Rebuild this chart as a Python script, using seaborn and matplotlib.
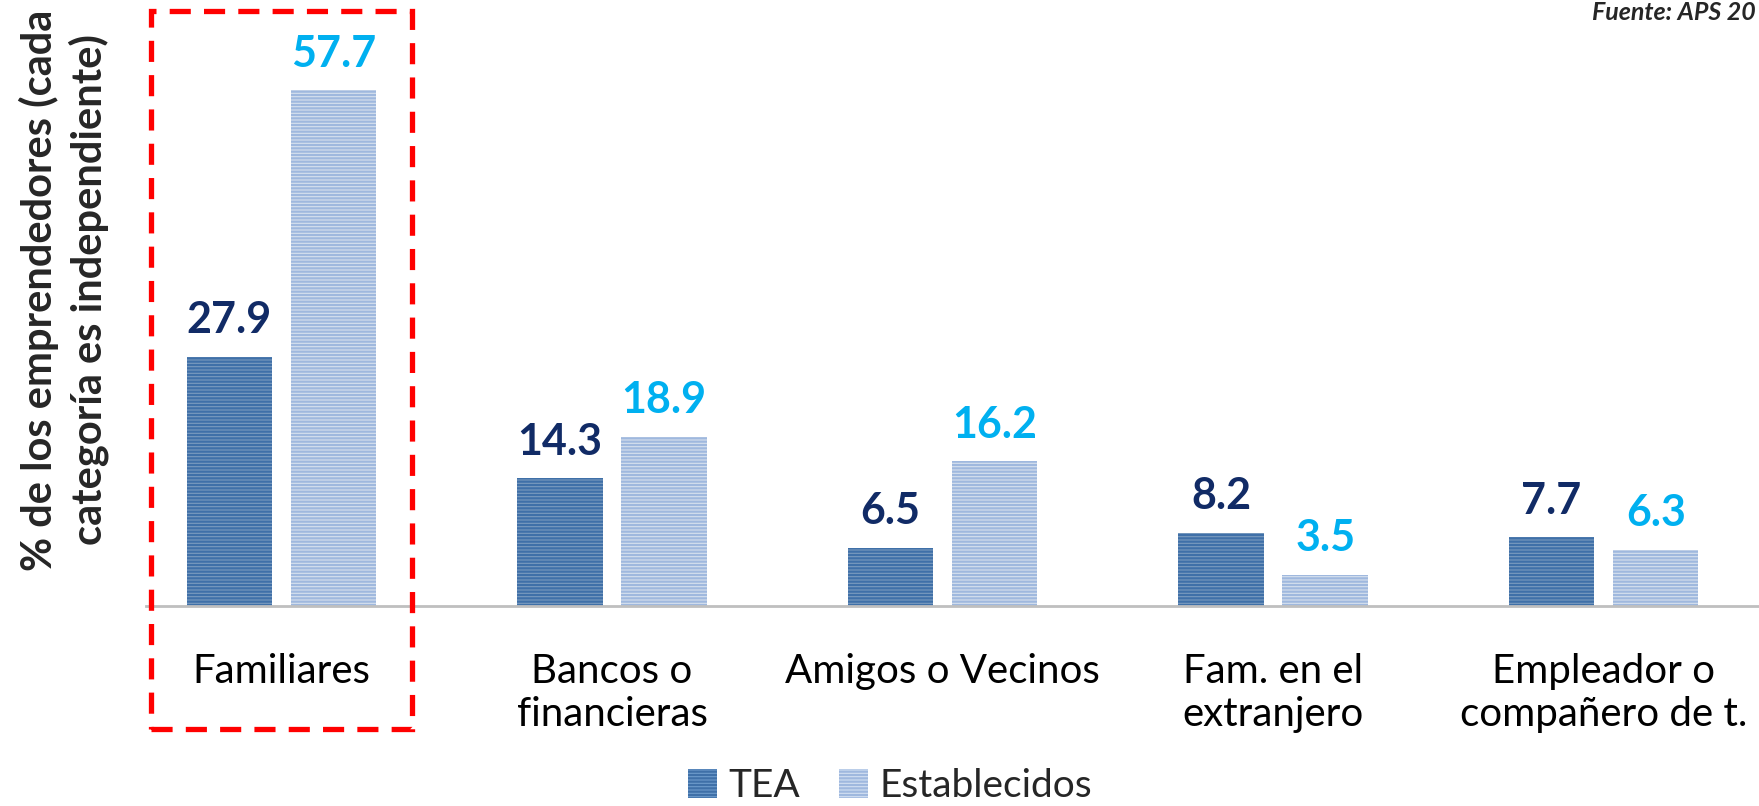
import pandas as pd
import matplotlib.pyplot as plt
import seaborn as sns
from matplotlib.patches import Rectangle

categories = ["Familiares", "Bancos o\nfinancieras", "Amigos o Vecinos",
              "Fam. en el\nextranjero", "Empleador o\ncompañero de t."]
tea = [27.9, 14.3, 6.5, 8.2, 7.7]
establecidos = [57.7, 18.9, 16.2, 3.5, 6.3]
series = ["TEA", "Establecidos"]

df = pd.DataFrame({
    "categoria": categories * 2,
    "grupo": [series[0]] * len(tea) + [series[1]] * len(establecidos),
    "valor": tea + establecidos,
})

sns.set_theme(style="white")
plt.rcParams['font.family'] = ['Lato', 'DejaVu Sans']
plt.rcParams['hatch.linewidth'] = 1.6

fig = plt.figure(figsize=(17.59, 8.06), dpi=100)
ax = fig.add_axes([146 / 1759, 200 / 806, 1 - 146 / 1759, 606 / 806])

face = {"TEA": "#6E9BCB", "Establecidos": "#D3E0F2"}
line = {"TEA": "#3F70A8", "Establecidos": "#9FB8DE"}
sns.barplot(data=df, x="categoria", y="valor", hue="grupo", order=categories,
            hue_order=series, palette=face, width=0.63, gap=0.18, ax=ax,
            legend=False)

label_colors = ["#112B66", "#00B0F0"]
for cont, name, lc in zip(ax.containers, series, label_colors):
    for p in cont:
        p.set_hatch("-----")
        p.set_edgecolor(line[name])
        p.set_linewidth(0)
    ax.bar_label(cont, fmt="%.1f", padding=12, fontsize=31, fontweight="bold",
                 color=lc)

ax.set_xlim(-0.41, 4.47)
ax.set_ylim(0, 67.8)
ax.set_xlabel("")
ax.set_ylabel("")
ax.set_yticks([])
for s in ["top", "right", "left"]:
    ax.spines[s].set_visible(False)
ax.spines["bottom"].set_color("#BFBFBF")
ax.spines["bottom"].set_linewidth(2)
ax.tick_params(axis="x", length=0, pad=34, labelsize=29, colors="black")

fig.text(64 / 1759, 1 - 290 / 806,
         "% de los emprendedores (cada\ncategoría es independiente)",
         rotation=90, ha="center", va="center", multialignment="center",
         fontsize=30, fontweight="bold", linespacing=1.3)

# source note (shown truncated in the original)
fig.text(1756 / 1759, 1 - 12 / 806, "Fuente: APS 20", ha="right", va="center",
         fontsize=18, fontweight="bold", style="italic")

# legend
handles = [Rectangle((0, 0), 1, 1, facecolor=face[s], edgecolor=line[s],
                     hatch="-----", linewidth=0) for s in series]
fig.legend(handles, series, loc="center", bbox_to_anchor=(890 / 1759, 1 - 786 / 806),
           ncol=2, frameon=False, fontsize=28, handlelength=0.75,
           handleheight=0.75, handletextpad=0.3, columnspacing=1.0)

# highlight box
fig.patches.append(Rectangle((151 / 1759, 1 - 729 / 806), 261 / 1759,
                             718 / 806, transform=fig.transFigure, fill=False,
                             edgecolor="#FF0000", linewidth=3.8,
                             linestyle=(0, (4, 2.5)), zorder=10))

fig.savefig("out.png", dpi=100)
